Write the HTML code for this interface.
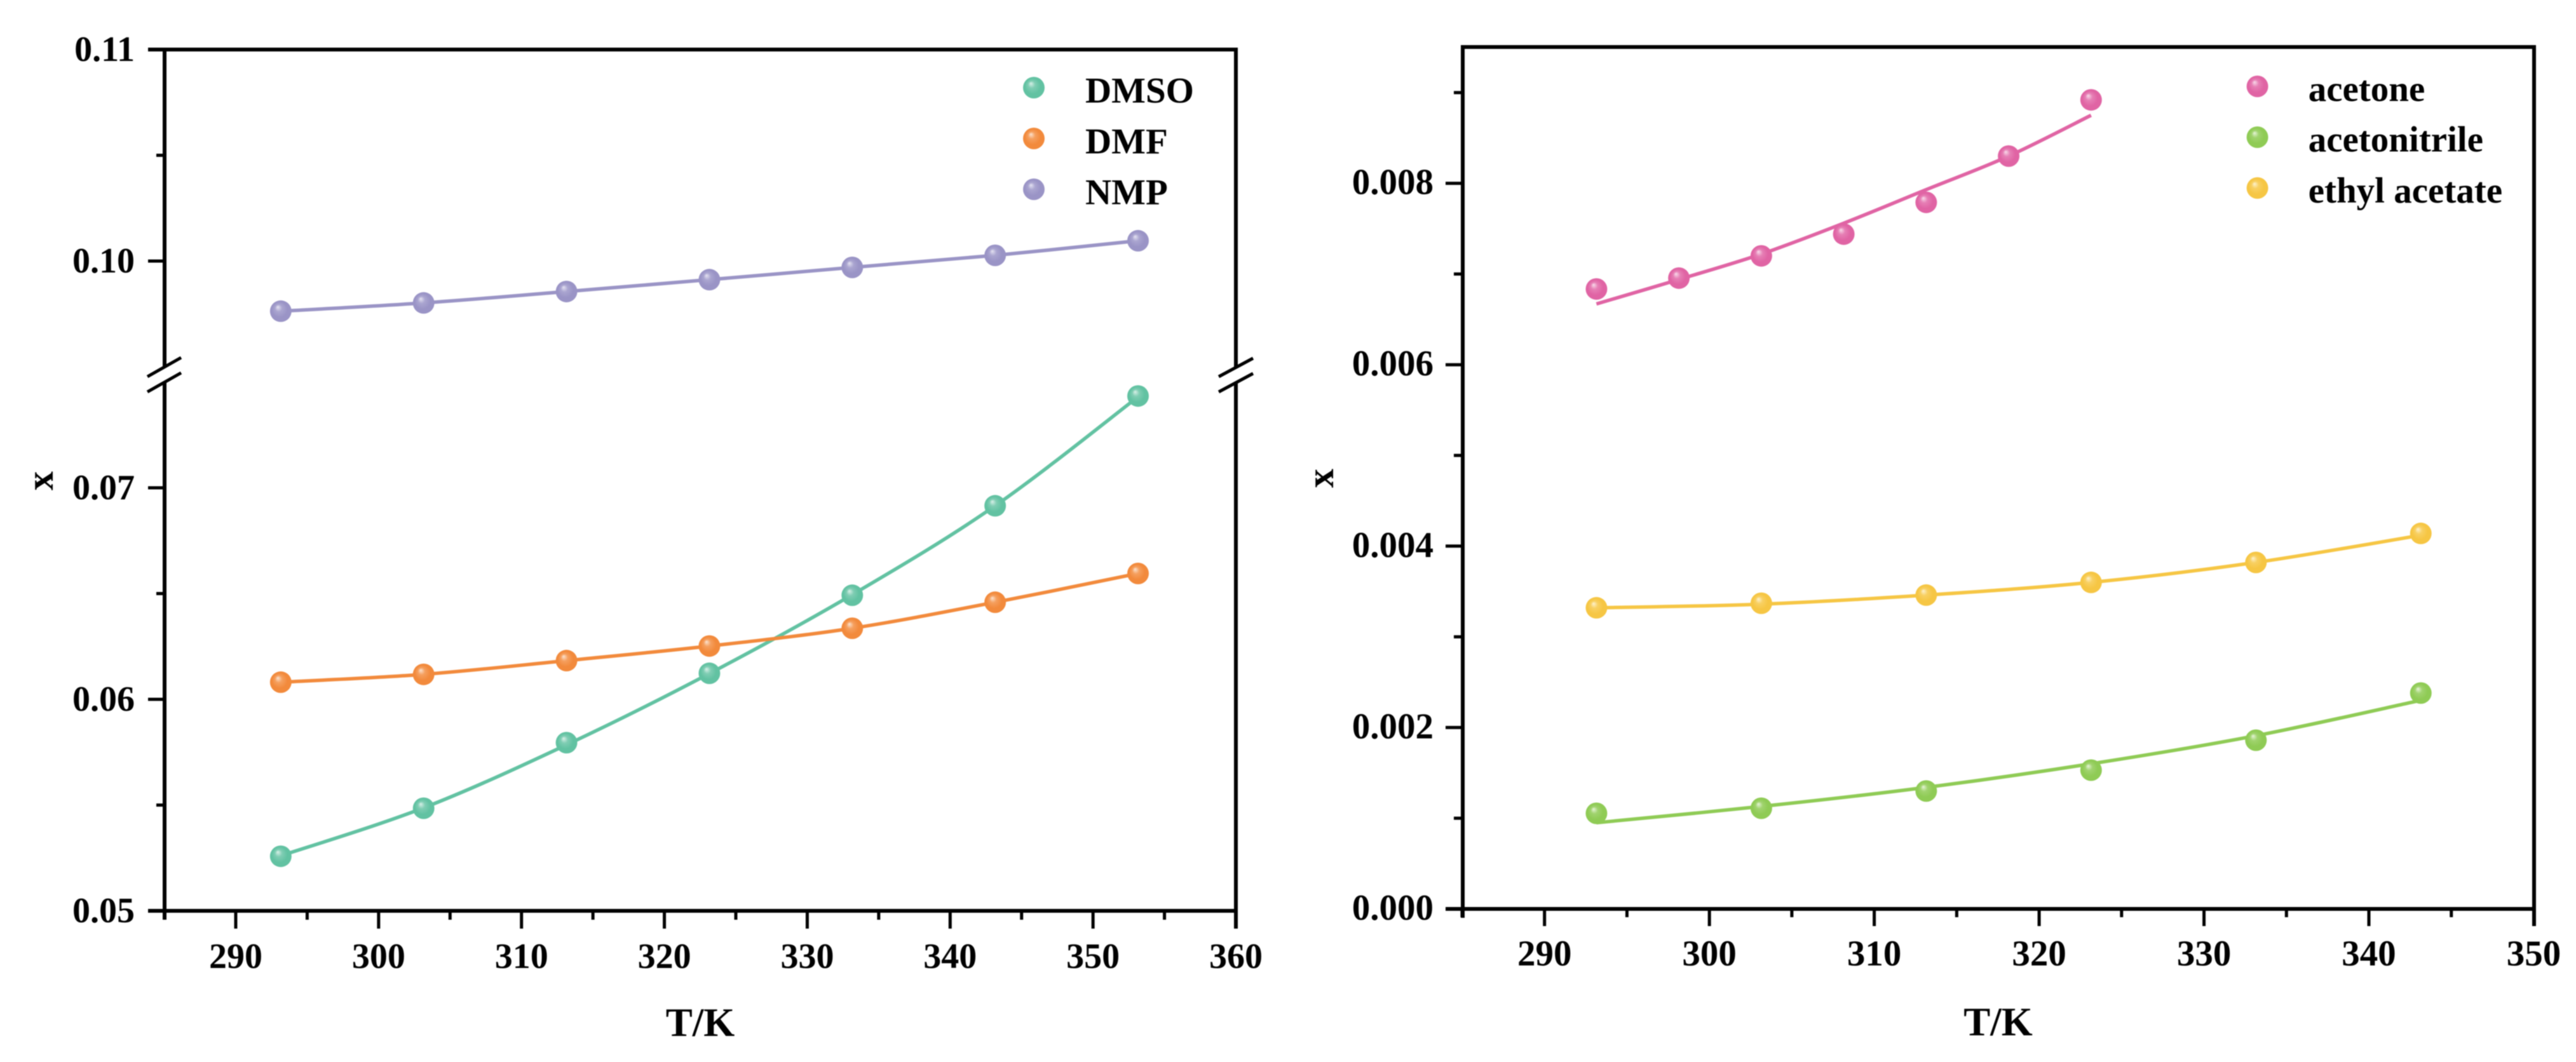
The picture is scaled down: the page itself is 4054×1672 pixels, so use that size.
<!DOCTYPE html>
<html lang="en">
<head>
<meta charset="utf-8">
<title>Solubility versus temperature</title>
<style>
  html, body { margin: 0; padding: 0; background: #fff; }
  body { width: 4054px; height: 1672px; overflow: hidden; }
  svg { display: block; filter: blur(0.9px); }
  text { font-family: "Liberation Serif", serif; font-weight: bold; fill: #000; }
</style>
</head>
<body>
<svg id="chart" xmlns="http://www.w3.org/2000/svg" width="4054" height="1672" viewBox="0 0 4054 1672">
  <defs>
    <radialGradient id="g-dmso" cx="50%" cy="50%" r="55%" fx="36%" fy="30%"><stop offset="0" stop-color="#d9f0e8"/><stop offset="0.3" stop-color="#7fcdb3"/><stop offset="0.65" stop-color="#62c2a2"/><stop offset="1" stop-color="#62c2a2"/></radialGradient>
    <radialGradient id="g-dmf" cx="50%" cy="50%" r="55%" fx="36%" fy="30%"><stop offset="0" stop-color="#fbe3d0"/><stop offset="0.3" stop-color="#f59f5e"/><stop offset="0.65" stop-color="#f28a3c"/><stop offset="1" stop-color="#f28a3c"/></radialGradient>
    <radialGradient id="g-nmp" cx="50%" cy="50%" r="55%" fx="36%" fy="30%"><stop offset="0" stop-color="#e5e3f2"/><stop offset="0.3" stop-color="#aaa5d0"/><stop offset="0.65" stop-color="#9a94c6"/><stop offset="1" stop-color="#9a94c6"/></radialGradient>
    <radialGradient id="g-acetone" cx="50%" cy="50%" r="55%" fx="36%" fy="30%"><stop offset="0" stop-color="#f8dbea"/><stop offset="0.3" stop-color="#e67fb5"/><stop offset="0.65" stop-color="#e064a4"/><stop offset="1" stop-color="#e064a4"/></radialGradient>
    <radialGradient id="g-acetonitrile" cx="50%" cy="50%" r="55%" fx="36%" fy="30%"><stop offset="0" stop-color="#e6f4d8"/><stop offset="0.3" stop-color="#a0d36e"/><stop offset="0.65" stop-color="#8fcb55"/><stop offset="1" stop-color="#8fcb55"/></radialGradient>
    <radialGradient id="g-ethyl" cx="50%" cy="50%" r="55%" fx="36%" fy="30%"><stop offset="0" stop-color="#fdf2cf"/><stop offset="0.3" stop-color="#f8d062"/><stop offset="0.65" stop-color="#f6c644"/><stop offset="1" stop-color="#f6c644"/></radialGradient>
  </defs>
</svg>
<script>
// ---- left chart data ----
const leftTemps = [293.15, 303.15, 313.15, 323.15, 333.15, 343.15, 353.15];
const valuesDMSO = [0.05258, 0.05485, 0.05795, 0.06123, 0.06492, 0.06915, 0.07434];
const fitDMSO = [0.0526, 0.05487, 0.05785, 0.06122, 0.06495, 0.06915, 0.0743];
const valuesDMF = [0.06081, 0.06118, 0.06183, 0.06252, 0.06336, 0.06459, 0.06595];
const valuesNMP = [0.09763, 0.09802, 0.09856, 0.09912, 0.0997, 0.10027, 0.10096];
const leftXMajor = [290, 300, 310, 320, 330, 340, 350, 360];
const leftXMinor = [285, 295, 305, 315, 325, 335, 345, 355];
const leftYMajor = [0.05, 0.06, 0.07, 0.10, 0.11];
const leftYMinor = [0.055, 0.065, 0.105];

// ---- right chart data ----
const acetoneTemps = [293.15, 298.15, 303.15, 308.15, 313.15, 318.15, 323.15];
const rightTemps = [293.15, 303.15, 313.15, 323.15, 333.15, 343.15];
const valuesAcetone = [0.006835, 0.006955, 0.0072, 0.00744, 0.00779, 0.0083, 0.00892];
const fitAcetone = [0.00667, 0.00694, 0.00722, 0.00756, 0.00793, 0.0083, 0.00875];
const valuesAcetonitrile = [0.001054, 0.00111, 0.0013, 0.00153, 0.00186, 0.00238];
const fitAcetonitrile = [0.00095, 0.00113, 0.00134, 0.0016, 0.00191, 0.0023];
const valuesEthyl = [0.00332, 0.00337, 0.00346, 0.0036, 0.00382, 0.00414];
const fitEthyl = [0.00332, 0.00336, 0.00346, 0.0036, 0.00382, 0.00412];
const rightXMajor = [290, 300, 310, 320, 330, 340, 350];
const rightXMinor = [285, 295, 305, 315, 325, 335, 345];
const rightYMajor = [0, 0.002, 0.004, 0.006, 0.008];
const rightYMinor = [0.001, 0.003, 0.005, 0.007, 0.009];

const svg = document.getElementById('chart');
const NS = 'http://www.w3.org/2000/svg';

function make(tag, attrs, parent) {
  const el = document.createElementNS(NS, tag);
  for (const k in attrs) el.setAttribute(k, attrs[k]);
  (parent || svg).appendChild(el);
  return el;
}

// axis functions
function xLeft(t) { return 371 + (t - 290) * 22.486; }
function yLeft(v) { return v >= 0.09 ? 411 - (v - 0.10) * 33300 : 1434 - (v - 0.05) * 33300; }
function xRight(t) { return 2430.7 + (t - 290) * 25.947; }
function yRight(v) { return 1431 - v * 142800; }

function smoothPath(pts) {
  let d = 'M' + pts[0][0].toFixed(1) + ' ' + pts[0][1].toFixed(1);
  for (let i = 0; i < pts.length - 1; i++) {
    const p0 = pts[Math.max(i - 1, 0)], p1 = pts[i], p2 = pts[i + 1], p3 = pts[Math.min(i + 2, pts.length - 1)];
    const c1x = p1[0] + (p2[0] - p0[0]) / 6, c1y = p1[1] + (p2[1] - p0[1]) / 6;
    const c2x = p2[0] - (p3[0] - p1[0]) / 6, c2y = p2[1] - (p3[1] - p1[1]) / 6;
    d += ' C' + c1x.toFixed(1) + ' ' + c1y.toFixed(1) + ' ' + c2x.toFixed(1) + ' ' + c2y.toFixed(1) + ' ' + p2[0].toFixed(1) + ' ' + p2[1].toFixed(1);
  }
  return d;
}

function axisLine(x1, y1, x2, y2, name, w) {
  const el = make('line', { x1: x1, y1: y1, x2: x2, y2: y2, stroke: '#000', 'stroke-width': w || 6 });
  
  
  return el;
}

function label(txt, x, y, size, anchor, name) {
  const el = make('text', { x: x, y: y, 'font-size': size, 'text-anchor': anchor });
  el.textContent = txt;
  
  
  return el;
}

function drawSeries(name, xs, vals, fits, xFn, yFn, color, grad) {
  const g = make('g', {});
  
  
  const pts = fits.map((v, i) => [xFn(xs[i]), yFn(v)]);
  const line = make('path', { d: smoothPath(pts), fill: 'none', stroke: color, 'stroke-width': 5.5 }, g);
  
  
  vals.forEach((v, i) => {
    const c = make('circle', { cx: xFn(xs[i]), cy: yFn(v), r: 17, fill: 'url(#' + grad + ')' }, g);
    
    
  });
}

function legendEntry(name, text, mx, my, tx, ty, grad) {
  const g = make('g', {});
  
  
  const c = make('circle', { cx: mx, cy: my, r: 17, fill: 'url(#' + grad + ')' }, g);
  
  
  const t = make('text', { x: tx, y: ty, 'font-size': 57 }, g);
  t.textContent = text;
  
  
}

// ---- left chart axes ----
const L = { l: 259, r: 1945, t: 78, b: 1434 };
axisLine(L.l - 26, L.t, L.r + 3, L.t, 'left-top-border');
axisLine(L.l, L.t, L.l, 578, 'left-y-axis-upper');
axisLine(L.l, 603, L.l, L.b + 14, 'left-y-axis-lower');
axisLine(L.r, L.t, L.r, 578, 'left-right-border-upper');
axisLine(L.r, 603, L.r, L.b + 28, 'left-right-border-lower');
axisLine(L.l - 26, L.b, L.r, L.b, 'left-x-axis');
[[232, 593, 285, 563], [232, 617, 285, 587]].forEach(s => axisLine(s[0], s[1], s[2], s[3], 'left-axis-break-mark', 5));
[[1918, 593, 1972, 564], [1918, 617, 1972, 588]].forEach(s => axisLine(s[0], s[1], s[2], s[3], 'right-axis-break-mark', 5));

leftXMajor.forEach(t => {
  if (t !== 360) axisLine(xLeft(t), L.b, xLeft(t), L.b + 28, 'left-x-major-tick', 5);
  label(String(t), xLeft(t), 1524, 56, 'middle', 'left-x-tick-label');
});
leftXMinor.forEach(t => axisLine(xLeft(t), L.b, xLeft(t), L.b + 14, 'left-x-minor-tick', 5));
leftYMajor.forEach(v => {
  axisLine(L.l - 26, yLeft(v), L.l, yLeft(v), 'left-y-major-tick', 5);
  label(v.toFixed(2), 212, yLeft(v) + 18, 56, 'end', 'left-y-tick-label');
});
leftYMinor.forEach(v => axisLine(L.l - 13, yLeft(v), L.l, yLeft(v), 'left-y-minor-tick', 5));
label('T/K', 1102, 1631, 63, 'middle', 'left-x-axis-title');
const leftYT = label('x', 0, 0, 60, 'middle', 'left-y-axis-title');
leftYT.setAttribute('transform', 'translate(83 757) rotate(-90)');

drawSeries('dmso', leftTemps, valuesDMSO, fitDMSO, xLeft, yLeft, '#62c2a2', 'g-dmso');
drawSeries('dmf', leftTemps, valuesDMF, valuesDMF, xLeft, yLeft, '#f28a3c', 'g-dmf');
drawSeries('nmp', leftTemps, valuesNMP, valuesNMP, xLeft, yLeft, '#9a94c6', 'g-nmp');

legendEntry('dmso', 'DMSO', 1627, 138, 1708, 161.5, 'g-dmso');
legendEntry('dmf', 'DMF', 1627, 218, 1708, 241.5, 'g-dmf');
legendEntry('nmp', 'NMP', 1627, 298, 1708, 321.5, 'g-nmp');

// ---- right chart axes ----
const R = { l: 2302, r: 3988, t: 74, b: 1431 };
axisLine(R.l - 3, R.t, R.r + 3, R.t, 'right-top-border');
axisLine(R.l, R.t, R.l, R.b + 14, 'right-y-axis');
axisLine(R.r, R.t, R.r, R.b + 27, 'right-right-border');
axisLine(R.l - 27, R.b, R.r, R.b, 'right-x-axis');

rightXMajor.forEach(t => {
  if (t !== 350) axisLine(xRight(t), R.b, xRight(t), R.b + 27, 'right-x-major-tick', 5);
  label(String(t), xRight(t), 1520, 57, 'middle', 'right-x-tick-label');
});
rightXMinor.forEach(t => axisLine(xRight(t), R.b, xRight(t), R.b + 13, 'right-x-minor-tick', 5));
rightYMajor.forEach(v => {
  axisLine(R.l - 27, yRight(v), R.l, yRight(v), 'right-y-major-tick', 5);
  label(v.toFixed(3), 2256, yRight(v) + 17, 57, 'end', 'right-y-tick-label');
});
rightYMinor.forEach(v => axisLine(R.l - 14, yRight(v), R.l, yRight(v), 'right-y-minor-tick', 5));
label('T/K', 3144.5, 1630, 63, 'middle', 'right-x-axis-title');
const rightYT = label('x', 0, 0, 60, 'middle', 'right-y-axis-title');
rightYT.setAttribute('transform', 'translate(2098 753) rotate(-90)');

drawSeries('acetone', acetoneTemps, valuesAcetone, fitAcetone, xRight, yRight, '#e064a4', 'g-acetone');
drawSeries('acetonitrile', rightTemps, valuesAcetonitrile, fitAcetonitrile, xRight, yRight, '#8fcb55', 'g-acetonitrile');
drawSeries('ethyl-acetate', rightTemps, valuesEthyl, fitEthyl, xRight, yRight, '#f6c644', 'g-ethyl');

legendEntry('acetone', 'acetone', 3552.6, 136, 3632.7, 159, 'g-acetone');
legendEntry('acetonitrile', 'acetonitrile', 3552.6, 216, 3632.7, 238.5, 'g-acetonitrile');
legendEntry('ethyl-acetate', 'ethyl acetate', 3552.6, 296, 3632.7, 319, 'g-ethyl');
</script>
</body>
</html>
